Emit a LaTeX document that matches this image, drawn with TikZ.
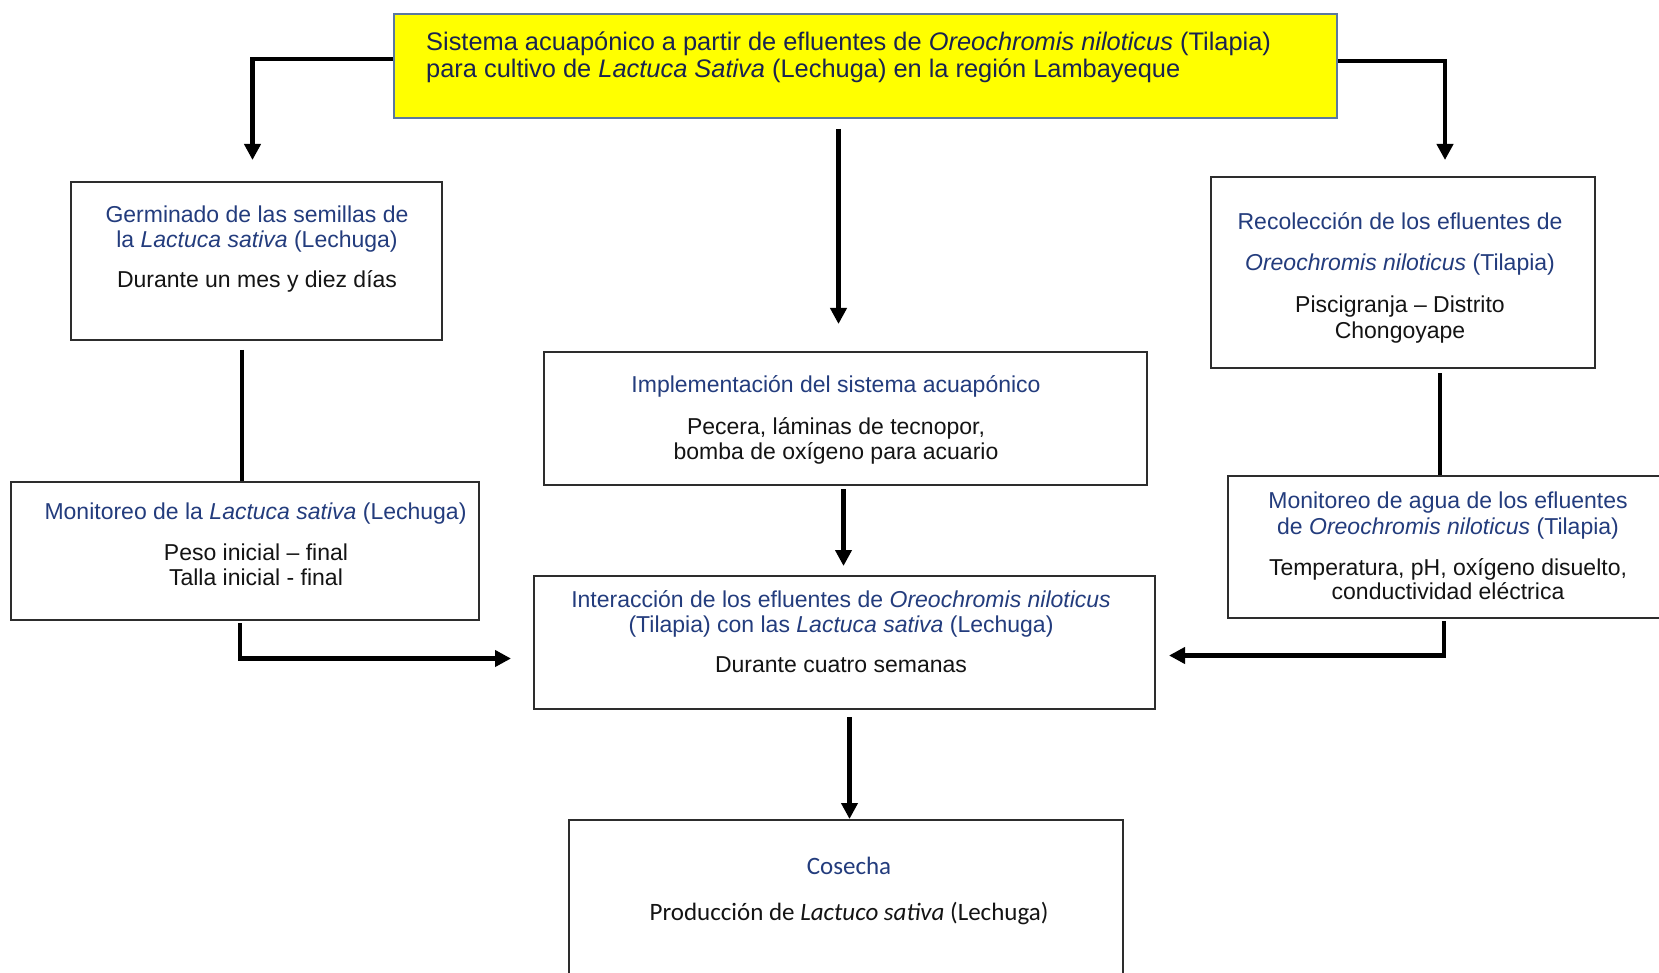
\documentclass[tikz,border=0pt]{standalone}
\usepackage{fontspec}
\setmainfont{Liberation Sans}
\newfontfamily\carlitofont{Carlito}
\usetikzlibrary{arrows.meta,calc}
\definecolor{hblue}{RGB}{35,60,125}
\definecolor{tblue}{RGB}{25,35,80}
\definecolor{tborder}{RGB}{90,120,160}
\definecolor{txt}{RGB}{20,20,20}
\definecolor{yell}{RGB}{255,255,0}
\definecolor{boxgray}{RGB}{45,45,45}
\begin{document}
\begin{tikzpicture}[x=1pt,y=-1pt,
  box/.style={rectangle,draw=boxgray,line width=2pt,fill=white,inner sep=0pt},
  tbox/.style={rectangle,draw=tborder,line width=1.6pt,fill=yell,inner sep=0pt},
  ttl/.style={font=\fontsize{25.4}{27}\selectfont,text=tblue,inner sep=0pt,anchor=base west},
  hd/.style={font=\fontsize{23}{24}\selectfont,text=hblue,inner sep=0pt,anchor=base},
  bd/.style={font=\fontsize{23}{24}\selectfont,text=txt,inner sep=0pt,anchor=base},
  chd/.style={font=\carlitofont\fontsize{25}{26}\selectfont,text=hblue,inner sep=0pt,anchor=base},
  cbd/.style={font=\carlitofont\fontsize{25}{26}\selectfont,text=txt,inner sep=0pt,anchor=base},
  conn/.style={line width=4.5pt,draw=black},
  arr/.style={line width=4.5pt,draw=black,-{Triangle[length=16pt,width=16pt]}}]
\useasboundingbox (0,0) rectangle (1659,973);
\fill[white] (0,0) rectangle (1659,973);

% boxes
\node[tbox,minimum width=943pt,minimum height=104pt] (title) at (865.5,66) {};
\node[box,minimum width=371pt,minimum height=158pt] (germ) at (256.5,261) {};
\node[box,minimum width=384pt,minimum height=191pt] (rec) at (1403,272.5) {};
\node[box,minimum width=603pt,minimum height=133pt] (impl) at (845.5,418.5) {};
\node[box,minimum width=468pt,minimum height=138pt] (monl) at (245,551) {};
\node[box,minimum width=440pt,minimum height=142pt] (mona) at (1448,547) {};
\node[box,minimum width=621pt,minimum height=133pt] (inter) at (844.5,642.5) {};
\node[box,minimum width=554pt,minimum height=170pt] (cos) at (846,905) {};

% title text
\node[ttl] (t1) at (426,51) {Sistema acuapónico a partir de efluentes de \textit{Oreochromis niloticus} (Tilapia)};
\node[ttl] (t2) at (426,78) {para cultivo de \textit{Lactuca Sativa} (Lechuga) en la región Lambayeque};

% germinado
\node[hd] (g1) at (257,223) {Germinado de las semillas de};
\node[hd] (g2) at (257,248) {la \textit{Lactuca sativa} (Lechuga)};
\node[bd] (g3) at (257,288) {Durante un mes y diez días};

% recoleccion
\node[hd] (r1) at (1400,230) {Recolección de los efluentes de};
\node[hd] (r2) at (1400,271) {\textit{Oreochromis niloticus} (Tilapia)};
\node[bd] (r3) at (1400,313) {Piscigranja – Distrito};
\node[bd] (r4) at (1400,338) {Chongoyape};

% implementacion
\node[hd] (i1) at (836,392) {Implementación del sistema acuapónico};
\node[bd] (i2) at (836,434) {Pecera, láminas de tecnopor,};
\node[bd] (i3) at (836,459) {bomba de oxígeno para acuario};

% monitoreo lactuca
\node[hd] (l1) at (255.5,519) {Monitoreo de la \textit{Lactuca sativa} (Lechuga)};
\node[bd] (l2) at (256,560) {Peso inicial – final};
\node[bd] (l3) at (256,585) {Talla inicial - final};

% monitoreo agua
\node[hd] (a1) at (1448,508) {Monitoreo de agua de los efluentes};
\node[hd] (a2) at (1448,534) {de \textit{Oreochromis niloticus} (Tilapia)};
\node[bd] (a3) at (1448,575) {Temperatura, pH, oxígeno disuelto,};
\node[bd] (a4) at (1448,599) {conductividad eléctrica};

% interaccion
\node[hd] (n1) at (841,607) {Interacción de los efluentes de \textit{Oreochromis niloticus}};
\node[hd] (n2) at (841,632) {(Tilapia) con las \textit{Lactuca sativa} (Lechuga)};
\node[bd] (n3) at (841,672) {Durante cuatro semanas};

% cosecha
\node[chd] (c1) at (849,874) {Cosecha};
\node[cbd] (c2) at (849,920) {Producción de \textit{Lactuco sativa} (Lechuga)};

% connectors
\draw[arr,shorten >=21pt] ($(title.west)+(0,-7)$) -| ($(germ.north)+(-4,0)$);
\draw[arr,shorten >=16pt] ($(title.east)+(0,-5)$) -| ($(rec.north)+(42,0)$);
\coordinate (cc) at ($(title.south)+(-27,0)$);
\draw[arr,shorten <=10pt,shorten >=27pt] (cc) -- (cc |- impl.north);
\coordinate (cg) at ($(monl.north)+(-3,0)$);
\draw[conn,shorten <=9pt] (cg |- germ.south) -- (cg);
\coordinate (cr) at ($(mona.north)+(-8,0)$);
\draw[conn,shorten <=4pt] (cr |- rec.south) -- (cr);
\coordinate (ci) at ($(impl.south)+(-2,0)$);
\draw[arr,shorten <=3pt,shorten >=9pt] (ci) -- (ci |- inter.north);
\draw[arr,shorten <=2pt,shorten >=22pt] ($(monl.south)+(-5,0)$) |- ($(inter.west)+(0,16)$);
\draw[arr,shorten <=2pt,shorten >=13pt] ($(mona.south)+(-4,0)$) |- ($(inter.east)+(0,13)$);
\coordinate (cs) at ($(inter.south)+(5,0)$);
\draw[arr,shorten <=7pt] (cs) -- (cs |- cos.north);
\end{tikzpicture}
\end{document}
